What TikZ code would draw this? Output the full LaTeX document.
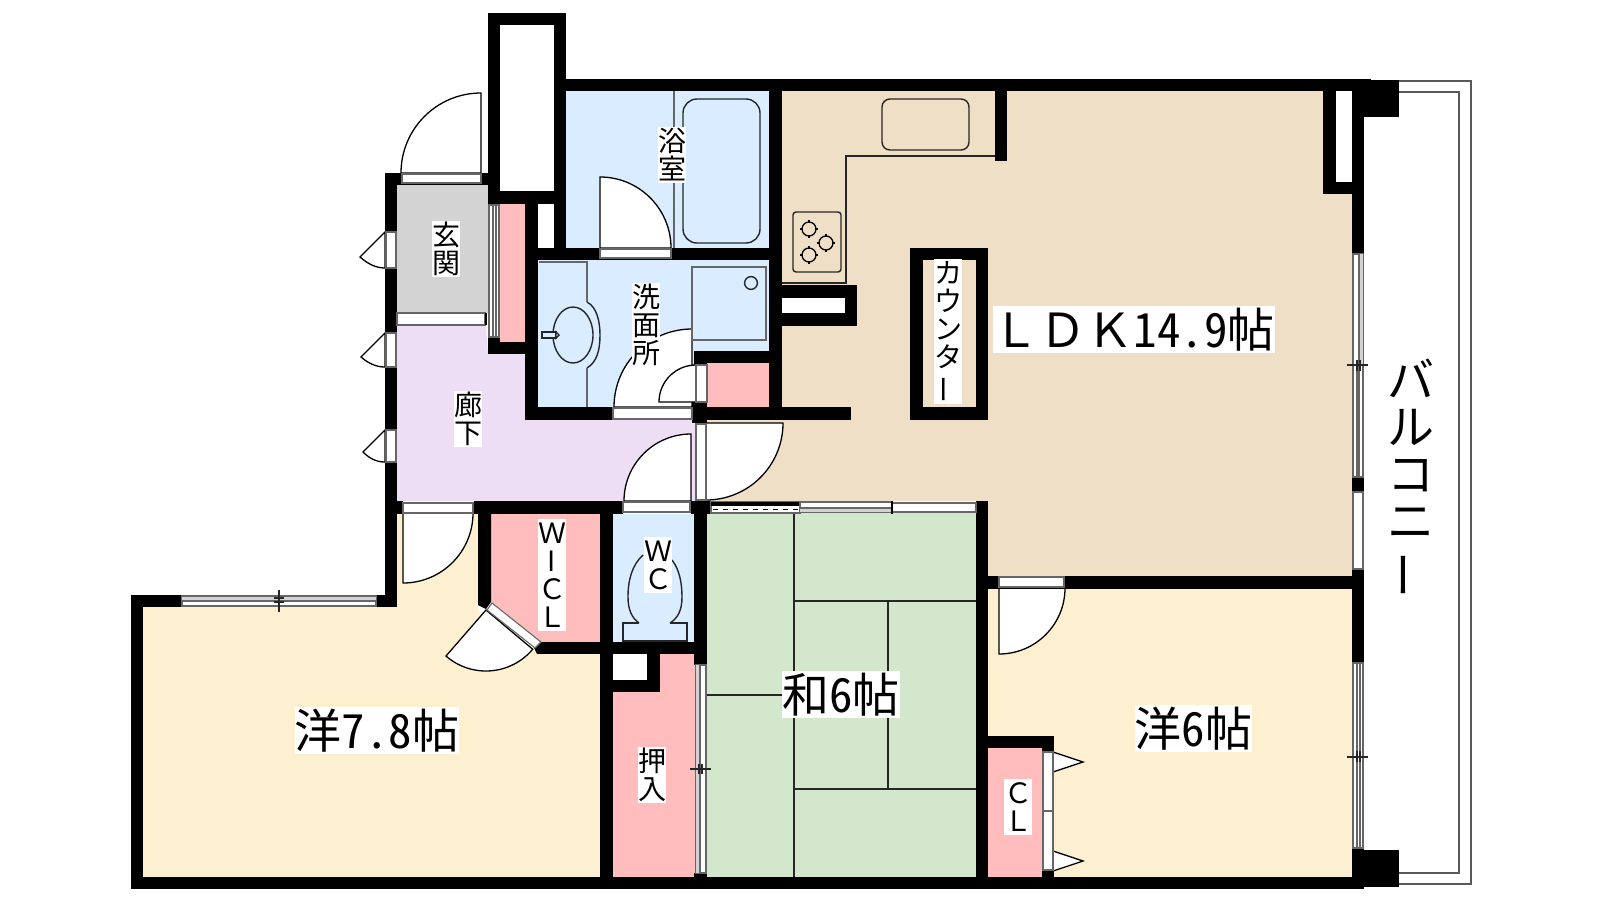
\documentclass[tikz,border=0pt]{standalone}
\usepackage{fontspec}
\newfontfamily\jp{Noto Sans CJK JP}
\newfontfamily\jphw{Noto Sans CJK JP}[RawFeature=+hwid]
\definecolor{cbeige}{HTML}{EFDFC6}
\definecolor{cyellow}{HTML}{FDF0D0}
\definecolor{cgreen}{HTML}{D2E7CB}
\definecolor{cblue}{HTML}{DAECFF}
\definecolor{cpink}{HTML}{FFBDBD}
\definecolor{cpurple}{HTML}{EDDEF5}
\definecolor{cgray}{HTML}{D3D3D3}
\newcommand\Zc[1]{\makebox[1em]{\rule[-.12em]{0pt}{1em}#1}}
\newcommand\Zb{\makebox[1em]{\rule[-.12em]{0pt}{1em}\rotatebox[origin=c]{90}{ー}}}
\newcommand\Hw[1]{\makebox[.5em]{\jphw #1}}
\newcommand\rb[4]{\fill[black] (#1,#2) rectangle (#3,#4);}
\newcommand\rw[4]{\fill[white] (#1,#2) rectangle (#3,#4);}
\newcommand\strip[4]{\filldraw[stripline,fill=white] (#1,#2) rectangle (#3,#4);}
\newcommand\doorfan[5]{\filldraw[fanline,fill=white] (#1,#2) -- +(#4:{#3*0.5pt}) arc[start angle=#4,end angle=#5,radius={#3*0.5pt}] -- cycle;}
\newcommand\burner[2]{\draw[fanline] (#1-9,#2) -- (#1+9,#2) (#1,#2-9) -- (#1,#2+9);
 \fill[cbeige] (#1,#2) circle[radius=3.1pt];
 \draw[fanline] (#1,#2) circle[radius=3.5pt];}
\tikzset{
 stripline/.style={draw=black!60,line width=.55pt},
 fanline/.style={draw=black,line width=.65pt},
 fix/.style={draw=black!85,line width=.7pt},
 rail/.style={draw=black!65,line width=.85pt},
 sm/.style={font=\jp\fontsize{14}{14}\selectfont,fill=white,inner sep=0pt,outer sep=0pt,align=center},
 big/.style={font=\jp\fontsize{23.5}{23.5}\selectfont,fill=white,inner sep=0pt,outer sep=0pt},
}
\begin{document}
\begin{tikzpicture}[x=0.5pt,y=-0.5pt]
\useasboundingbox (0,0) rectangle (1600,900);
% ---------- room floors
\fill[cblue] (566,91) rectangle (769,248);
\fill[cblue] (538,260) rectangle (769,407);
\fill[cgray] (397,185) rectangle (488,313);
\fill[cpurple] (397,325) -- (486,325) -- (488,354) -- (525,354) -- (525,420) -- (695,420) -- (695,501) -- (397,501) -- cycle;
\fill[cpink] (500,204) rectangle (525,342);
\fill[cpink] (707,363) rectangle (769,407);
\fill[cbeige] (782,91) -- (1352,91) -- (1352,576) -- (988,576) -- (988,501) -- (707,501) -- (707,420) -- (782,420) -- cycle;
\fill[cyellow] (143,607) -- (397,607) -- (397,514) -- (478,514) -- (478,610) -- (540,654) -- (600,654) -- (600,877) -- (143,877) -- cycle;
\fill[cpink] (491,514) -- (600,514) -- (600,642) -- (541,642) -- (491,602) -- cycle;
\fill[cblue] (613,514) rectangle (694,642);
\fill[cpink] (660,654) -- (695,654) -- (695,877) -- (613,877) -- (613,692) -- (660,692) -- cycle;
\fill[cgreen] (707,513) rectangle (976,877);
\fill[cyellow] (988,589) rectangle (1352,877);
\fill[cpink] (988,748) rectangle (1042,877);
% ---------- door swings
\doorfan{481}{173}{80}{90}{180}
\doorfan{600}{248}{71}{90}{0}
\doorfan{692}{407}{78}{90}{180}
\doorfan{696}{402}{37}{90}{180}
\doorfan{706}{423}{77}{0}{-90}
\doorfan{691}{501}{67}{90}{180}
\doorfan{403}{513}{70}{-90}{0}
\doorfan{486}{610}{61}{-131}{-40}
\doorfan{999}{588}{66}{-90}{0}
% outward doors on the left wall
\filldraw[fanline,fill=white] (385,232) -- (360,257) .. controls (368,264) and (376,268) .. (385,268) -- cycle;
\filldraw[fanline,fill=white] (385,333) -- (361,357) .. controls (369,364) and (377,367) .. (385,367) -- cycle;
\filldraw[fanline,fill=white] (385,430) -- (363,452) .. controls (370,459) and (377,462) .. (385,462) -- cycle;
% closet doors
\filldraw[fanline,fill=white] (1053,752) -- (1083,762) -- (1053,772) -- cycle;
\filldraw[fanline,fill=white] (1053,851) -- (1083,861) -- (1053,871) -- cycle;
% ---------- fixtures
% bath
\draw[fix,draw=black!60] (674,91) -- (674,248);
\draw[fix,rounded corners=7pt] (683,99) rectangle (760,243);
% sink counter
\draw[fix,draw=black!60] (539,262) -- (587,262) -- (587,302);
\draw[fix] (587,302) .. controls (597,307) and (600,322) .. (600,335) .. controls (600,350) and (597,362) .. (587,368);
\draw[fix,draw=black!60] (587,368) -- (587,407);
\draw[fix] (573,335) ellipse[x radius=20,y radius=28];
\filldraw[fix,fill=cblue] (542,332) rectangle (556,338);
\filldraw[fix,fill=cblue] (556,332) -- (559,335) -- (556,338) -- cycle;
% washing machine pan
\draw[fix,draw=black!60] (692,267) rectangle (766,340);
\draw[fix] (751,283) circle[radius=3.2pt];
% kitchen
\draw[fix] (995,156) -- (846,156) -- (846,283) -- (782,283);
\draw[fix,rounded corners=4pt] (882,99) rectangle (969,150);
\draw[fix,rounded corners=1.5pt] (793,212) rectangle (841,272);
\burner{809}{229}
\burner{826}{243}
\burner{809}{255}
% tatami
\draw[fix] (794,513) -- (794,877);
\draw[fix] (794,601) -- (976,601);
\draw[fix] (888,601) -- (888,789);
\draw[fix] (794,789) -- (976,789);
\draw[fix] (707,695) -- (794,695);
% toilet
\draw[fix] (643,555) .. controls (632,565) and (628,580) .. (628,597) .. controls (628,610) and (632,618) .. (639,623);
\draw[fix] (672,560) .. controls (680,570) and (682,585) .. (682,597) .. controls (682,610) and (678,618) .. (670,623);
\draw[fix] (639,623) -- (623,623) -- (623,641) -- (687,641) -- (687,623) -- (670,623);
% balcony rail
\draw[rail] (1399,81) -- (1471,81) -- (1471,884) -- (1399,884);
\draw[rail] (1399,92) -- (1459,92) -- (1459,873) -- (1399,873);
% ---------- walls
\rb{488}{13}{566}{204} \rw{500}{25}{554}{191}
\rb{554}{191}{566}{260}
\rb{554}{79}{1371}{91}
\rb{1364}{80}{1399}{117}
\rb{525}{204}{538}{420} \rw{538}{204}{554}{248}
\rb{525}{248}{782}{260}
\rb{769}{91}{782}{420}
\rb{782}{285}{857}{326} \rw{782}{298}{845}{313}
\rb{694}{351}{782}{363} \rb{694}{351}{707}{365}
\rb{692}{402}{707}{423}
\rb{525}{407}{851}{420}
\rb{385}{173}{397}{607}
\rb{385}{173}{500}{185}
\rb{488}{337}{500}{354} \rb{488}{342}{538}{354}
\rb{385}{501}{403}{514}
\rb{474}{501}{623}{514}
\rb{600}{514}{613}{889}
\fill[black] (478,514) -- (491,514) -- (491,602) -- (486,609) -- (478,605) -- cycle;
\rb{691}{501}{711}{514}
\rb{694}{514}{707}{665}
\rb{537}{642}{707}{654}
\fill[black] (541,642) -- (537,654) -- (534,648) -- cycle;
\rb{647}{654}{660}{692} \rb{613}{680}{660}{692}
\rb{694}{873}{707}{877}
\rb{131}{877}{1364}{889}
\rb{131}{595}{143}{889}
\rb{131}{595}{182}{607}
\rb{376}{595}{397}{607}
\rb{976}{501}{988}{889}
\rb{988}{576}{1352}{589}
\rb{1352}{91}{1364}{254}
\rb{1352}{477}{1364}{492}
\rb{1352}{569}{1364}{663}
\rb{1352}{848}{1364}{889}
\rb{1364}{850}{1399}{887}
\rb{988}{736}{1054}{748}
\rb{1042}{748}{1054}{752}
\rb{1042}{870}{1054}{877}
\rb{1323}{91}{1352}{194} \rw{1336}{91}{1352}{182}
\rb{995}{91}{1007}{161}
\rb{910}{248}{988}{420}
\fill[cbeige] (923,260) rectangle (976,407);
% ---------- door and window strips in walls
\strip{402}{174}{481}{183}
\strip{600}{249}{671}{258}
\strip{613}{408}{692}{419}
\strip{696}{365}{707}{402}
\strip{696}{424}{706}{500}
\strip{623}{502}{690}{512}
\strip{403}{503}{473}{513}
\strip{999}{577}{1064}{587}
\strip{1043}{752}{1053}{811}
\strip{1043}{811}{1053}{870}
\strip{397}{313}{485}{325}
\fill[black] (485,313) rectangle (487,325);
\strip{386}{232}{396}{268}
\strip{386}{333}{396}{367}
\strip{386}{430}{396}{462}
\filldraw[stripline,fill=white] (487,610) -- (492,603) -- (541,642) -- (535,648) -- cycle;
\strip{489}{205}{499}{337}
\draw[stripline] (493,205) -- (493,337) (496,205) -- (496,337);
% window: top of the 7.8 room
\filldraw[stripline,fill=white] (182,596) rectangle (376,606);
\fill[cgray] (182,597) rectangle (376,601);
\draw[stripline] (182,601) -- (376,601);
\draw[fix] (279,590) -- (279,612) (274,598) -- (284,598) (274,602) -- (284,602);
% window: closet to tatami
\filldraw[stripline,fill=white] (696,665) rectangle (706,873);
\fill[cgray] (696,665) rectangle (700,873);
\draw[stripline] (700,665) -- (700,873);
\draw[fix] (690,769) -- (711,769) (699,764) -- (699,774) (702,764) -- (702,774);
% sliding doors top of tatami
\filldraw[stripline,fill=white] (711,502) rectangle (800,513);
\fill[black] (711,502) rectangle (800,506);
\draw[black,line width=.5pt,dash pattern=on 2.5pt off 2.5pt] (713,509) -- (800,509);
\filldraw[stripline,fill=white] (800,502) rectangle (892,512);
\fill[cgray] (800,508) rectangle (892,512);
\draw[stripline] (800,508) -- (892,508);
\filldraw[stripline,fill=white] (892,503) rectangle (976,512);
\fill[black] (891,501) rectangle (893,514);
% windows on the balcony side
\filldraw[stripline,fill=white] (1353,254) rectangle (1363,477);
\fill[cgray] (1359,254) rectangle (1363,365);
\draw[stripline] (1357,365) -- (1357,477) (1359,254) -- (1359,477);
\draw[fix] (1347,365) -- (1368,365) (1357,360) -- (1357,371) (1360,360) -- (1360,371);
\strip{1353}{492}{1363}{569}
\filldraw[stripline,fill=white] (1353,663) rectangle (1363,848);
\draw[stripline] (1357,663) -- (1357,848) (1360,663) -- (1360,848);
\draw[fix] (1347,757) -- (1368,757) (1357,751) -- (1357,762) (1360,751) -- (1360,762);
% ---------- labels
\node[sm] (lgenkan) at (446,249) {\Zc{玄}\\\Zc{関}};
\node[sm] (lbath) at (672,155) {\Zc{浴}\\\Zc{室}};
\node[sm] (lwash) at (646,325) {\Zc{洗}\\\Zc{面}\\\Zc{所}};
\node[sm] (lhall) at (468,419) {\Zc{廊}\\\Zc{下}};
\node[sm] (lwcl) at (552,574.5) {\Zc{Ｗ}\\\Zc{I}\\\Zc{Ｃ}\\\Zc{Ｌ}};
\node[sm] (lwc) at (658,565) {\Zc{Ｗ}\\\Zc{Ｃ}};
\node[sm] (loshi) at (652,774.5) {\Zc{押}\\\Zc{入}};
\node[sm] (lcl) at (1018,806.5) {\Zc{Ｃ}\\\Zc{Ｌ}};
\node[sm] (lcounter) at (948,331.5) {\Zc{カ}\\\Zc{ウ}\\\Zc{ン}\\\Zc{タ}\\\Zb};
\node[big] (lroom1) at (377,730.5) {\Zc{洋}\Hw{7}\Hw{.}\Hw{8}\Zc{帖}};
\node[big] (lroom2) at (841,694.5) {\Zc{和}\Hw{6}\Zc{帖}};
\node[big] (lroom3) at (1193.5,728.5) {\Zc{洋}\Hw{6}\Zc{帖}};
\node[big] (lldk) at (1133.5,329.5) {\Zc{Ｌ}\Zc{Ｄ}\Zc{Ｋ}\Hw{1}\Hw{4}\Hw{.}\Hw{9}\Zc{帖}};
\node[big,fill=none,align=center] (lbalcony) at (1411,477) {\Zc{バ}\\\Zc{ル}\\\Zc{コ}\\\Zc{ニ}\\\Zb};
\end{tikzpicture}
\end{document}
